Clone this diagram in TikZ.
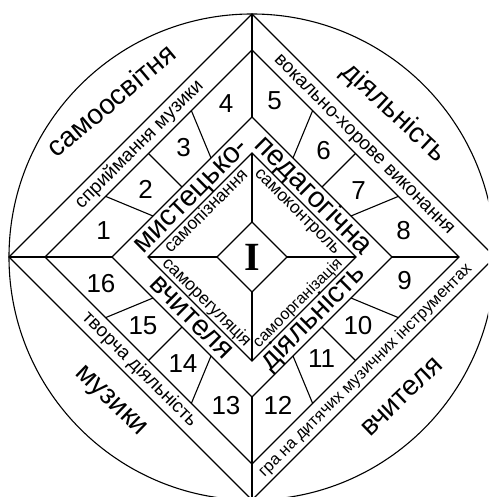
\documentclass[tikz,border=0pt]{standalone}
\usepackage{fontspec}
\setmainfont{Liberation Sans}
\newfontfamily\romanI{Liberation Serif}
\begin{document}
\begin{tikzpicture}[x=1pt,y=1pt,
  ln/.style={line width=1.1pt, line join=miter, black},
  bigtxt/.style={font=\fontsize{28}{30}\selectfont, inner sep=0pt},
  bandtxt/.style={font=\fontsize{29}{31}\selectfont, inner sep=0pt, text height=15pt, text depth=0pt},
  thintxt/.style={font=\fontsize{19}{21}\selectfont, inner sep=0pt, text height=9.9pt, text depth=0pt},
  smalltxt/.style={font=\fontsize{16.5}{18}\selectfont, inner sep=0pt, text height=8.6pt, text depth=0pt},
  innertxt/.style={font=\fontsize{17.5}{19}\selectfont, inner sep=0pt, text height=9.1pt, text depth=0pt},
  innersmall/.style={font=\fontsize{16}{18}\selectfont, inner sep=0pt, text height=8.3pt, text depth=0pt},
  numtxt/.style={font=\fontsize{26}{28}\selectfont, inner sep=0pt}]
\fill[white] (-252,-240) rectangle (236,257);
\useasboundingbox (-252,-240) rectangle (236,257);
\clip (-252,-240) rectangle (236,257);
% circle and diamonds
\draw[ln] (0,0) circle (243);
\foreach \d in {243,207,140,104,35}
  \draw[ln] (\d,0) -- (0,\d) -- (-\d,0) -- (0,-\d) -- cycle;
% axes
\draw[ln] (-243,0) -- (-140,0);
\draw[ln] (207,0) -- (140,0);
\draw[ln] (0,243) -- (0,140);
\draw[ln] (0,-243) -- (0,-140);
\draw[ln] (-104,0) -- (-35,0);
\draw[ln] (104,0) -- (35,0);
\draw[ln] (0,104) -- (0,35);
\draw[ln] (0,-104) -- (0,-35);
% dividers of numbered band
\foreach \a in {22.5,67.5,112.5,157.5,202.5,247.5,292.5,337.5}
  \draw[ln] (\a:158.43) -- (\a:107.15);
\foreach \a in {45,135,225,315}
  \draw[ln] (\a:146.37) -- (\a:98.99);
% numbers
\node[numtxt] (n1) at (-148.5,26) {1};
\node[numtxt] (n2) at (-106.5,68) {2};
\node[numtxt] (n3) at (-68.5,109.5) {3};
\node[numtxt] (n4) at (-26,153.5) {4};
\node[numtxt] (n5) at (22.5,156) {5};
\node[numtxt] (n6) at (71.5,106) {6};
\node[numtxt] (n7) at (106.5,66) {7};
\node[numtxt] (n8) at (151.5,26) {8};
\node[numtxt] (n9) at (152.5,-24) {9};
\node[numtxt] (n10) at (106,-68.5) {10};
\node[numtxt] (n11) at (69.5,-102) {11};
\node[numtxt] (n12) at (26,-148.5) {12};
\node[numtxt] (n13) at (-26,-148.5) {13};
\node[numtxt] (n14) at (-69,-107) {14};
\node[numtxt] (n15) at (-109,-68.5) {15};
\node[numtxt] (n16) at (-151,-27) {16};
% outer words
\node[bigtxt, rotate=40] (o1) at (-141,157) {самоосвітня};
\node[bigtxt, rotate=-43] (o2) at (142,144) {діяльність};
\node[bigtxt, rotate=-44] (o3) at (-142,-145) {музики};
\node[bigtxt, rotate=44] (o4) at (150,-140) {вчителя};
% thin band
\node[thintxt, rotate=45] (t1) at (-112.5,112.5) {сприймання музики};
\node[thintxt, rotate=-45] (t2) at (112.5,112.5) {вокально-хорове виконання};
\node[thintxt, rotate=-45] (t3) at (-112.5,-112.5) {творча діяльність};
\node[smalltxt, rotate=45] (t4) at (113.5,-113.5) {гра на дитячих музичних інструментах};
% middle band
\node[bandtxt, rotate=45] (b1) at (-61,61) {мистецько-};
\node[bandtxt, rotate=-45] (b2) at (61,61) {педагогічна};
\node[bandtxt, rotate=-45] (b3) at (-61,-61) {вчителя};
\node[bandtxt, rotate=45] (b4) at (61,-61) {діяльність};
% inner
\node[innertxt, rotate=45] (i1) at (-45.5,45.5) {самопізнання};
\node[innertxt, rotate=-45] (i2) at (45.5,45.5) {самоконтроль};
\node[innertxt, rotate=-45] (i3) at (-45.5,-45.5) {саморегуляція};
\node[innersmall, rotate=45] (i4) at (46,-46) {самоорганізація};
% centre
\node[inner sep=0pt, font=\romanI\bfseries\fontsize{40}{42}\selectfont] (c) at (0,0) {I};
\end{tikzpicture}
\end{document}
